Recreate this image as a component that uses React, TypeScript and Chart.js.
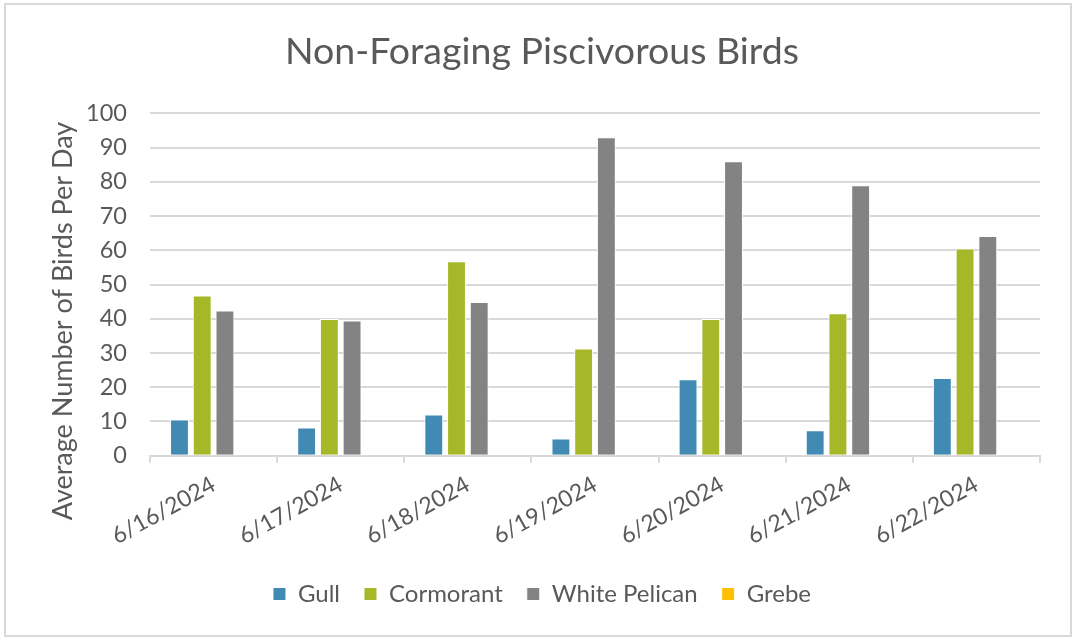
import React, { useEffect, useRef } from "react";
import { Chart, registerables } from "chart.js";

Chart.register(...registerables);

const categories = ["6/16/2024", "6/17/2024", "6/18/2024", "6/19/2024", "6/20/2024", "6/21/2024", "6/22/2024"];
const gull = [10.6, 8.2, 12.0, 5.0, 22.3, 7.4, 22.7];
const cormorant = [46.8, 39.9, 56.8, 31.3, 39.9, 41.6, 60.5];
const whitePelican = [42.4, 39.5, 44.9, 93.0, 86.0, 79.0, 64.2];
const grebe = [0, 0, 0, 0, 0, 0, 0];

const chartTitle = "Non-Foraging Piscivorous Birds";
const yAxisTitle = "Average Number of Birds Per Day";

const FONT = "Lato, 'Open Sans', sans-serif";
const TEXT = "#595959";
const GRID = "#D9D9D9";

const frame = {
  id: "frame",
  beforeDraw(chart: any) {
    const ctx = chart.ctx;
    ctx.save();
    ctx.fillStyle = "#FFFFFF";
    ctx.fillRect(0, 0, chart.width, chart.height);
    ctx.strokeStyle = GRID;
    ctx.lineWidth = 2;
    ctx.strokeRect(5, 4, 1066, 632);
    ctx.restore();
  },
};

const yTitlePlugin = {
  id: "yTitlePlugin",
  afterDraw(chart: any) {
    const ctx = chart.ctx;
    ctx.save();
    ctx.translate(63, 321);
    ctx.rotate(-Math.PI / 2);
    ctx.font = `27px ${FONT}`;
    ctx.fillStyle = TEXT;
    ctx.textAlign = "center";
    ctx.textBaseline = "middle";
    ctx.fillText(yAxisTitle, 0, 0);
    ctx.restore();
  },
};

export default function App() {
  const ref = useRef<HTMLCanvasElement | null>(null);

  useEffect(() => {
    if (!ref.current) return;
    const common = {
      borderColor: "#FFFFFF",
      borderWidth: 1,
      categoryPercentage: 0.715,
      barPercentage: 0.83,
    };
    const chart = new Chart(ref.current, {
      type: "bar",
      data: {
        labels: categories,
        datasets: [
          { label: "Gull", data: gull, backgroundColor: "#418AB3", ...common },
          { label: "Cormorant", data: cormorant, backgroundColor: "#A6B727", ...common },
          { label: "White Pelican", data: whitePelican, backgroundColor: "#838383", ...common },
          { label: "Grebe", data: grebe, backgroundColor: "#FEC000", ...common },
        ],
      },
      options: {
        animation: false,
        responsive: false,
        devicePixelRatio: 1,
        layout: { padding: { left: 10, right: 0, top: 0, bottom: 22 } },
        plugins: {
          title: {
            display: true,
            text: chartTitle,
            color: TEXT,
            font: { family: FONT, size: 37.5, weight: "normal" },
            padding: { top: 29.5, bottom: 38.8 },
          },
          legend: {
            position: "bottom",
            labels: {
              color: TEXT,
              font: { family: FONT, size: 24 },
              boxWidth: 13,
              boxHeight: 13,
              padding: 24,
            },
          },
          tooltip: { enabled: false },
        },
        scales: {
          x: {
            afterFit(scale: any) {
              scale.height = 102.3;
            },
            grid: {
              offset: true,
              drawOnChartArea: false,
              drawTicks: true,
              tickLength: 7,
              color: GRID,
              lineWidth: 2,
            },
            border: { display: true, color: GRID, width: 2 },
            ticks: {
              color: TEXT,
              font: { family: FONT, size: 23 },
              minRotation: 29,
              maxRotation: 29,
              padding: 8,
              labelOffset: 0,
            },
          },
          y: {
            min: 0,
            max: 100,
            afterFit(scale: any) {
              scale.width = 140;
            },
            grid: { color: GRID, lineWidth: 2, drawTicks: false },
            border: { display: false },
            ticks: {
              stepSize: 10,
              color: TEXT,
              font: { family: FONT, size: 23.5 },
              padding: 23,
            },
          },
          yRight: {
            position: "right",
            min: 0,
            max: 100,
            afterFit(scale: any) {
              scale.width = 34;
            },
            grid: { display: false },
            border: { display: false },
            ticks: { display: false },
          },
        },
      },
      plugins: [frame, yTitlePlugin],
    });
    return () => chart.destroy();
  }, []);

  return (
    <div style={{ position: "fixed", left: 0, top: 0, width: 1074, height: 638, background: "#fff" }}>
      <canvas ref={ref} width={1074} height={638} style={{ display: "block" }} />
    </div>
  );
}
